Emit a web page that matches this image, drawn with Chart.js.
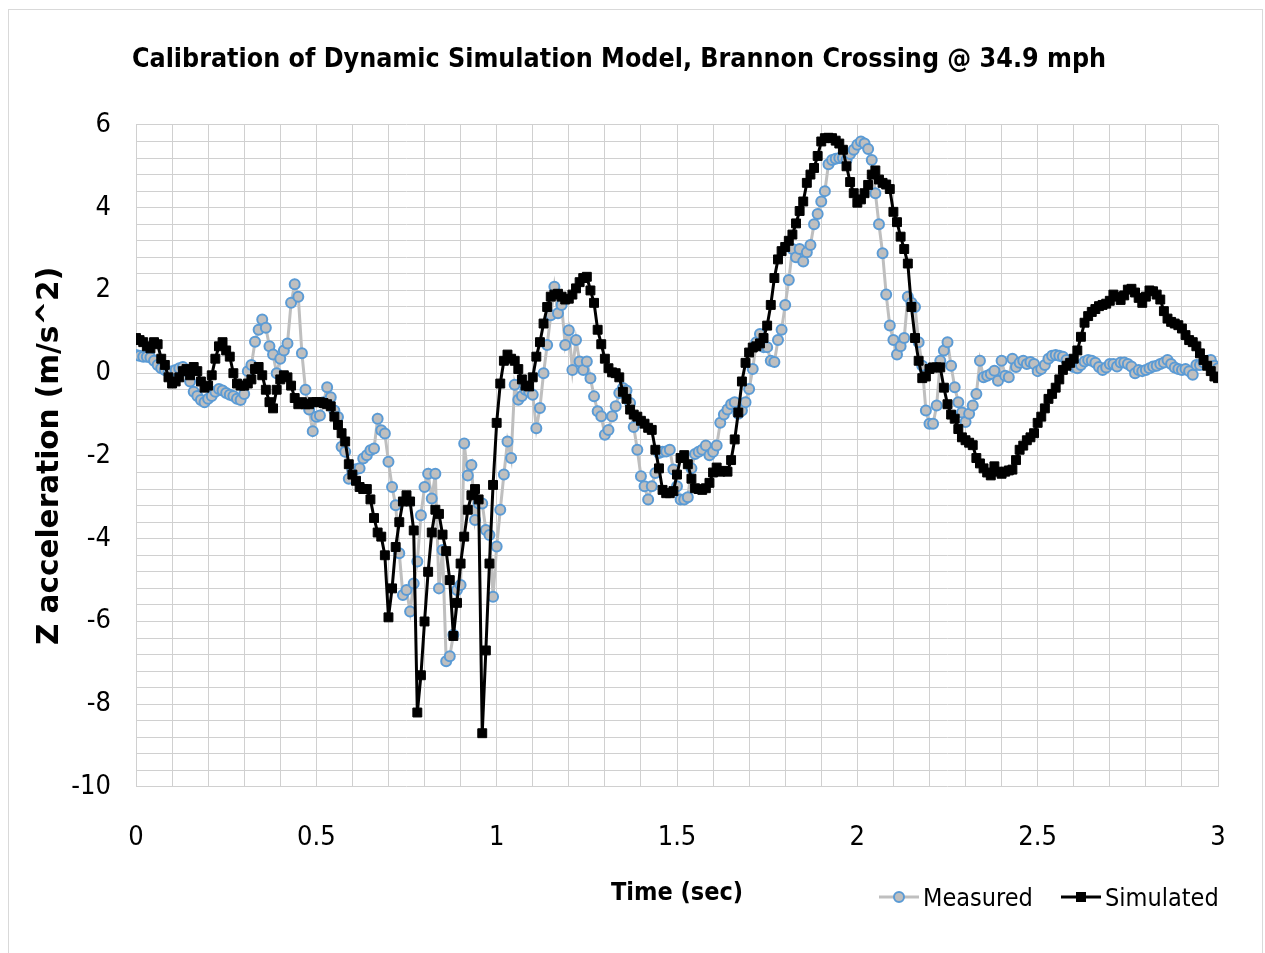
<!DOCTYPE html>
<html lang="en">
<head>
<meta charset="UTF-8">
<title>Calibration of Dynamic Simulation Model</title>
<script src="https://cdn.jsdelivr.net/npm/chart.js@4.4.1/dist/chart.umd.js"></script>
<style>
  body { margin: 0; background: #fff; }
  #wrap { position: relative; width: 1265px; height: 953px; overflow: hidden; }
  #frame { position: absolute; left: 8px; top: 9px; width: 1253px; height: 960px; border: 1px solid #d9d9d9; pointer-events: none; }
  .leg { position: absolute; top: 880px; display: flex; align-items: center; height: 34px;
         font-family: 'Liberation Sans Narrow', 'Arial Narrow', 'DejaVu Sans Condensed', 'Liberation Sans', sans-serif;
         font-size: 25px; color: #000; }
  .leg svg { margin-right: 4px; }
</style>
</head>
<body>
<div id="wrap">
  <canvas id="chart" width="1265" height="953"></canvas>
  <div id="frame"></div>
  <div class="leg" style="left:879px">
    <svg width="40" height="20"><line x1="0" y1="10" x2="40" y2="10" stroke="#bfbfbf" stroke-width="3"/><circle cx="20" cy="10" r="5" fill="#bfbfbf" stroke="#5b9bd5" stroke-width="2"/></svg>Measured
  </div>
  <div class="leg" style="left:1061px">
    <svg width="40" height="20"><line x1="0" y1="10" x2="40" y2="10" stroke="#000" stroke-width="3"/><rect x="15" y="5" width="10" height="10" fill="#000"/></svg>Simulated
  </div>
</div>
<script>
// samples every 0.01 s, starting at t = 0
const sampleStep = 0.01;

const measured = [
  0.44, 0.42, 0.40, 0.40, 0.38, 0.30, 0.20, 0.12, 0.08, 0.02,
  0.05, 0.08, 0.12, 0.15, 0.05, -0.20, -0.45, -0.55, -0.65, -0.70,
  -0.62, -0.55, -0.45, -0.38, -0.42, -0.48, -0.52, -0.55, -0.62, -0.65,
  -0.50, 0.05, 0.20, 0.76, 1.05, 1.30, 1.10, 0.65, 0.45, 0.00,
  0.35, 0.55, 0.72, 1.70, 2.15, 1.85, 0.48, -0.40, -0.88, -1.40,
  -1.05, -1.02, -0.70, -0.34, -0.58, -0.90, -1.06, -1.78, -1.90, -2.55,
  -2.35, -2.32, -2.30, -2.06, -1.98, -1.86, -1.82, -1.10, -1.38, -1.46,
  -2.14, -2.75, -3.19, -4.35, -5.36, -5.24, -5.76, -5.08, -4.55, -3.43,
  -2.75, -2.43, -3.03, -2.43, -5.20, -4.27, -6.96, -6.84, -6.32, -5.24,
  -5.12, -1.70, -2.47, -2.22, -3.55, -3.15, -3.15, -3.79, -3.91, -5.40,
  -4.19, -3.30, -2.45, -1.65, -2.05, -0.28, -0.64, -0.55, -0.40, -0.45,
  -0.52, -1.33, -0.84, 0.00, 0.68, 1.40, 2.09, 1.45, 1.65, 0.68,
  1.04, 0.08, 0.80, 0.28, 0.08, 0.28, -0.12, -0.56, -0.92, -1.04,
  -1.49, -1.37, -1.04, -0.80, -0.48, -0.36, -0.42, -0.72, -1.30, -1.85,
  -2.49, -2.73, -3.05, -2.73, -2.41, -1.93, -1.90, -1.89, -1.85, -2.33,
  -2.73, -3.05, -3.05, -3.00, -2.30, -1.95, -1.90, -1.85, -1.75, -1.98,
  -1.90, -1.75, -1.20, -1.00, -0.88, -0.75, -0.70, -0.98, -0.90, -0.70,
  -0.38, 0.10, 0.75, 0.95, 0.63, 0.63, 0.30, 0.27, 0.80, 1.05,
  1.65, 2.25, 3.00, 2.80, 3.00, 2.70, 2.92, 3.10, 3.60, 3.85,
  4.15, 4.40, 5.05, 5.15, 5.18, 5.20, 5.20, 5.15, 5.30, 5.40,
  5.52, 5.60, 5.55, 5.42, 5.15, 4.35, 3.60, 2.90, 1.90, 1.15,
  0.80, 0.45, 0.65, 0.85, 1.85, 1.70, 1.60, 0.75, 0.18, -0.90,
  -1.22, -1.22, -0.78, 0.30, 0.55, 0.75, 0.18, -0.34, -0.70, -0.95,
  -1.18, -0.98, -0.78, -0.50, 0.30, -0.10, -0.06, -0.02, 0.06, -0.18,
  0.30, -0.06, -0.10, 0.35, 0.15, 0.25, 0.30, 0.22, 0.27, 0.22,
  0.05, 0.10, 0.20, 0.35, 0.42, 0.44, 0.42, 0.40, 0.32, 0.25,
  0.15, 0.12, 0.20, 0.28, 0.32, 0.30, 0.25, 0.15, 0.08, 0.14,
  0.22, 0.22, 0.16, 0.26, 0.26, 0.22, 0.16, 0.00, 0.08, 0.05,
  0.08, 0.12, 0.16, 0.18, 0.22, 0.26, 0.32, 0.22, 0.14, 0.10,
  0.08, 0.10, 0.05, -0.04, 0.20, 0.20, 0.26, 0.30, 0.32, 0.18,
  0.12
];

const simulated = [
  0.85, 0.80, 0.75, 0.65, 0.60, 0.75, 0.70, 0.35, 0.20, -0.10,
  -0.25, -0.20, -0.10, 0.05, 0.10, -0.05, 0.15, 0.05, -0.20, -0.35,
  -0.30, -0.05, 0.35, 0.65, 0.75, 0.55, 0.40, 0.00, -0.25, -0.30,
  -0.30, -0.25, -0.15, 0.10, 0.15, -0.05, -0.40, -0.70, -0.85, -0.40,
  -0.15, -0.05, -0.10, -0.30, -0.60, -0.75, -0.70, -0.75, -0.75, -0.70,
  -0.70, -0.70, -0.72, -0.75, -0.80, -1.05, -1.25, -1.45, -1.65, -2.20,
  -2.45, -2.60, -2.75, -2.80, -2.80, -3.05, -3.50, -3.85, -3.95, -4.40,
  -5.90, -5.20, -4.20, -3.60, -3.10, -2.95, -3.10, -3.80, -8.20, -7.30,
  -6.00, -4.80, -3.85, -3.30, -3.40, -3.90, -4.30, -5.00, -6.35, -5.55,
  -4.60, -3.95, -3.30, -2.95, -2.80, -3.05, -8.70, -6.70, -4.60, -2.70,
  -1.20, -0.25, 0.30, 0.45, 0.35, 0.30, 0.10, -0.15, -0.30, -0.32,
  -0.10, 0.40, 0.75, 1.20, 1.60, 1.85, 1.90, 1.92, 1.85, 1.78,
  1.80, 1.90, 2.05, 2.20, 2.30, 2.33, 2.00, 1.70, 1.05, 0.70,
  0.35, 0.12, 0.02, 0.00, -0.10, -0.45, -0.62, -0.88, -1.00, -1.05,
  -1.15, -1.22, -1.32, -1.37, -1.85, -2.30, -2.82, -2.90, -2.90, -2.85,
  -2.45, -2.05, -1.98, -2.20, -2.55, -2.78, -2.80, -2.82, -2.78, -2.65,
  -2.40, -2.28, -2.38, -2.36, -2.38, -2.10, -1.60, -0.95, -0.20, 0.25,
  0.50, 0.62, 0.65, 0.72, 0.85, 1.15, 1.65, 2.30, 2.75, 2.95,
  3.05, 3.20, 3.35, 3.62, 3.92, 4.15, 4.60, 4.80, 4.96, 5.25,
  5.60, 5.68, 5.69, 5.68, 5.62, 5.55, 5.40, 5.00, 4.62, 4.35,
  4.12, 4.20, 4.35, 4.55, 4.80, 4.90, 4.68, 4.60, 4.56, 4.45,
  3.90, 3.65, 3.30, 3.00, 2.65, 1.60, 0.85, 0.30, -0.12, -0.08,
  0.10, 0.14, 0.14, 0.14, -0.35, -0.75, -1.00, -1.10, -1.35, -1.55,
  -1.62, -1.68, -1.74, -2.05, -2.18, -2.30, -2.40, -2.47, -2.25, -2.38,
  -2.43, -2.38, -2.35, -2.33, -2.10, -1.85, -1.75, -1.62, -1.55, -1.45,
  -1.20, -1.05, -0.85, -0.62, -0.50, -0.35, -0.15, 0.08, 0.18, 0.25,
  0.35, 0.55, 0.88, 1.22, 1.38, 1.48, 1.55, 1.62, 1.65, 1.68,
  1.75, 1.90, 1.85, 1.77, 1.88, 2.02, 2.04, 1.95, 1.82, 1.70,
  1.85, 2.00, 1.98, 1.90, 1.78, 1.50, 1.32, 1.24, 1.20, 1.16,
  1.08, 0.92, 0.80, 0.75, 0.65, 0.48, 0.32, 0.18, 0.05, -0.08,
  -0.12
];

const xLabelEvery = 0.5;   // only these x ticks get a label
const yLabelEvery = 2;     // only these y ticks get a label

const narrow = "'Liberation Sans Narrow', 'Arial Narrow', 'DejaVu Sans Condensed', 'Liberation Sans', sans-serif";
const gridColor = '#d0d0d0';

function toPoints(values) {
  return values.map((v, i) => ({ x: +(i * sampleStep).toFixed(2), y: v }));
}

function onStep(v, step) {
  const r = v / step;
  return Math.abs(r - Math.round(r)) < 1e-6;
}

new Chart(document.getElementById('chart'), {
  type: 'line',
  data: {
    datasets: [
      {
        label: 'Simulated',
        data: toPoints(simulated),
        borderColor: '#000',
        backgroundColor: '#000',
        borderWidth: 3,
        pointStyle: 'rect',
        pointRadius: 6.3,
        pointBorderWidth: 1,
        order: 0
      },
      {
        label: 'Measured',
        data: toPoints(measured),
        borderColor: '#bfbfbf',
        backgroundColor: '#bfbfbf',
        pointBackgroundColor: '#bfbfbf',
        pointBorderColor: '#5b9bd5',
        borderWidth: 3,
        pointStyle: 'circle',
        pointRadius: 5,
        pointBorderWidth: 2,
        order: 1
      }
    ]
  },
  options: {
    responsive: false,
    animation: false,
    layout: { padding: { left: 20, right: 47, top: 0, bottom: 0 } },
    plugins: {
      legend: { display: false },
      tooltip: { enabled: false },
      title: {
        display: true,
        text: 'Calibration of Dynamic Simulation Model, Brannon Crossing @ 34.9 mph',
        color: '#000',
        font: { family: narrow, size: 26.6, weight: 'bold' },
        padding: { top: 44, bottom: 49 }
      }
    },
    scales: {
      x: {
        type: 'linear',
        min: 0,
        max: 3,
        afterFit: s => { s.height = 166; },
        ticks: {
          stepSize: 0.1,
          autoSkip: false,
          maxRotation: 0,
          padding: 35,
          color: '#000',
          font: { family: narrow, size: 27 },
          callback: v => onStep(v, xLabelEvery) ? String(Math.round(v * 2) / 2) : ''
        },
        grid: { color: gridColor, lineWidth: 1, drawTicks: false },
        border: { display: false },
        title: {
          display: true,
          text: 'Time (sec)',
          color: '#000',
          font: { family: narrow, size: 25, weight: 'bold' },
          padding: { top: 0, bottom: 45 }
        }
      },
      y: {
        min: -10,
        max: 6,
        afterFit: s => { s.width = 116; },
        ticks: {
          stepSize: 0.4,
          autoSkip: false,
          padding: 25,
          color: '#000',
          font: { family: narrow, size: 27 },
          callback: v => onStep(v, yLabelEvery) ? String(Math.round(v)) : ''
        },
        grid: { color: gridColor, lineWidth: 1, drawTicks: false },
        border: { display: false },
        title: {
          display: true,
          text: 'Z acceleration (m/s^2)',
          color: '#000',
          font: { family: "'DejaVu Sans', Verdana, sans-serif", size: 29.5, weight: 'bold' },
          padding: { top: 13, bottom: 0 }
        }
      }
    }
  }
});
</script>
</body>
</html>
